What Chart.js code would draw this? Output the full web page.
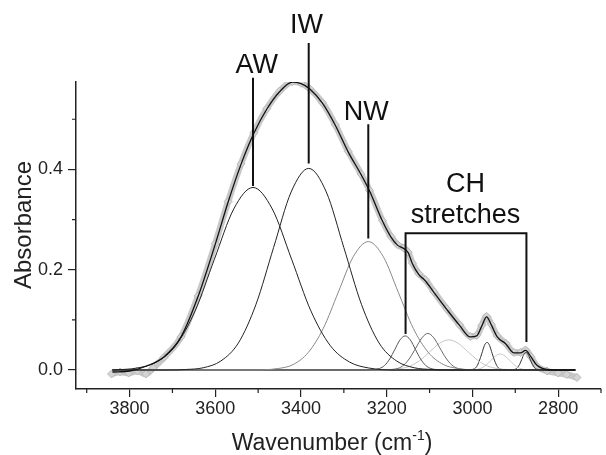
<!DOCTYPE html>
<html>
<head>
<meta charset="utf-8">
<script src="https://cdn.jsdelivr.net/npm/chart.js@4.4.1/dist/chart.umd.min.js"></script>
<style>
  html, body { margin: 0; padding: 0; background: #fff; }
  #wrap { width: 606px; height: 455px; position: relative; }
</style>
</head>
<body>
<div id="wrap"><canvas id="irChart"></canvas></div>
<script>
// measured spectrum (grey band) - wavenumber / absorbance
const spectrumX = [3842, 3822, 3802, 3782, 3762, 3745, 3720, 3680, 3640, 3600, 3570, 3540, 3510, 3480, 3450, 3420, 3400, 3380, 3350, 3320, 3290, 3260, 3240, 3210, 3190, 3175, 3160, 3150, 3140, 3125, 3110, 3090, 3060, 3030, 3005, 2990, 2978, 2967, 2956, 2942, 2922, 2903, 2888, 2876, 2864, 2850, 2826, 2800, 2780, 2756];
const spectrumY = [-0.008, -0.004, -0.006, -0.002, -0.008, 0.004, 0.025, 0.066, 0.148, 0.252, 0.336, 0.411, 0.473, 0.521, 0.556, 0.575, 0.572, 0.561, 0.533, 0.489, 0.436, 0.391, 0.358, 0.298, 0.266, 0.25, 0.243, 0.235, 0.213, 0.192, 0.18, 0.156, 0.122, 0.09, 0.067, 0.069, 0.089, 0.107, 0.091, 0.068, 0.053, 0.035, 0.035, 0.04, 0.027, 0.008, -0.002, -0.006, -0.009, -0.015];

// fitted envelope (black)
const envelopeX = [3840, 3800, 3760, 3720, 3680, 3640, 3600, 3570, 3540, 3510, 3480, 3450, 3420, 3400, 3380, 3350, 3320, 3290, 3260, 3240, 3210, 3190, 3175, 3160, 3150, 3140, 3125, 3110, 3090, 3060, 3030, 3005, 2990, 2978, 2967, 2956, 2942, 2922, 2903, 2888, 2876, 2864, 2850, 2826, 2800, 2760];
const envelopeY = [-0.004, -0.002, 0.008, 0.026, 0.066, 0.147, 0.251, 0.335, 0.41, 0.472, 0.52, 0.555, 0.574, 0.571, 0.561, 0.532, 0.488, 0.435, 0.39, 0.357, 0.297, 0.265, 0.249, 0.242, 0.234, 0.212, 0.19, 0.178, 0.155, 0.121, 0.089, 0.066, 0.068, 0.088, 0.106, 0.09, 0.066, 0.052, 0.034, 0.034, 0.039, 0.027, 0.01, 0.001, 0, 0];

// fitted components
const awX = [3840, 3782, 3737, 3692, 3647, 3602, 3557, 3512, 3467, 3422, 3377, 3332, 3287, 3242, 3180, 2760];
const awY = [0, 0.004, 0.016, 0.049, 0.118, 0.221, 0.321, 0.364, 0.321, 0.221, 0.118, 0.049, 0.016, 0.004, 0, 0];
const iwX = [3840, 3710, 3669, 3628, 3587, 3546, 3505, 3464, 3423, 3382, 3341, 3300, 3259, 3218, 3177, 3136, 3095, 3050, 2760];
const iwY = [0, 0, 0.001, 0.0045, 0.018, 0.054, 0.131, 0.244, 0.355, 0.402, 0.355, 0.244, 0.131, 0.054, 0.018, 0.0045, 0.001, 0, 0];
const nwX = [3840, 3520, 3453, 3418, 3383, 3348, 3313, 3278, 3243, 3208, 3173, 3138, 3103, 3068, 3033, 2990, 2760];
const nwY = [0, 0, 0.003, 0.011, 0.035, 0.083, 0.155, 0.226, 0.256, 0.226, 0.155, 0.083, 0.035, 0.011, 0.003, 0, 0];
const ch1X = [3840, 3260, 3229, 3217, 3205, 3193, 3181, 3169, 3157, 3145, 3133, 3121, 3109, 3097, 3085, 3050, 2760];
const ch1Y = [0, 0, 0.001, 0.003, 0.009, 0.022, 0.041, 0.06, 0.068, 0.06, 0.041, 0.022, 0.009, 0.003, 0.001, 0, 0];
const ch2X = [3840, 3220, 3188, 3174, 3160, 3146, 3132, 3118, 3104, 3090, 3076, 3062, 3048, 3034, 3020, 2990, 2760];
const ch2Y = [0, 0, 0.001, 0.003, 0.01, 0.024, 0.044, 0.064, 0.073, 0.064, 0.044, 0.024, 0.01, 0.003, 0.001, 0, 0];
const ch3X = [3840, 3230, 3190, 3167, 3145, 3123, 3100, 3077, 3055, 3033, 3010, 2987, 2965, 2943, 2920, 2880, 2760];
const ch3Y = [0, 0, 0.001, 0.003, 0.008, 0.019, 0.036, 0.053, 0.06, 0.053, 0.036, 0.019, 0.008, 0.003, 0.001, 0, 0];
const ch4X = [3840, 3020, 3002, 2996, 2990, 2984, 2978, 2972, 2966, 2960, 2954, 2948, 2942, 2936, 2930, 2910, 2760];
const ch4Y = [0, 0, 0.001, 0.002, 0.007, 0.018, 0.033, 0.049, 0.055, 0.049, 0.033, 0.018, 0.007, 0.002, 0.001, 0, 0];
const ch5X = [3840, 3010, 2990, 2979, 2968, 2957, 2946, 2935, 2924, 2913, 2902, 2891, 2880, 2860, 2760];
const ch5Y = [0, 0, 0.001, 0.004, 0.01, 0.019, 0.028, 0.032, 0.028, 0.019, 0.01, 0.004, 0.001, 0, 0];
const ch6X = [3840, 2915, 2900, 2895, 2890, 2885, 2880, 2875, 2870, 2865, 2860, 2855, 2850, 2835, 2760];
const ch6Y = [0, 0, 0.0015, 0.005, 0.011, 0.021, 0.031, 0.035, 0.031, 0.021, 0.011, 0.005, 0.0015, 0, 0];

// axis ticks
const xMajorTicks = [3800, 3600, 3400, 3200, 3000, 2800];
const xMinorTicks = [3900, 3700, 3500, 3300, 3100, 2900, 2700];
const yMajorTicks = [0, 0.2, 0.4];
const yMinorTicks = [0.1, 0.3, 0.5];

const FONT = '"Liberation Sans", Arial, sans-serif';

function pts(xs, ys) {
  return xs.map((x, i) => ({ x: x, y: ys[i] }));
}

function component(xs, ys, color) {
  return {
    data: pts(xs, ys),
    borderColor: color,
    borderWidth: 1,
    pointRadius: 0,
    cubicInterpolationMode: 'monotone',
    order: 2,
  };
}

// peak labels and the CH bracket, anchored in data units
const annotate = {
  id: 'annotate',
  afterDraw(chart) {
    const { ctx, chartArea } = chart;
    const x = chart.scales.x, y = chart.scales.y;
    const X = v => x.getPixelForValue(v);
    const Y = v => y.getPixelForValue(v);
    ctx.save();

    // minor ticks
    ctx.strokeStyle = '#222';
    ctx.lineWidth = 1.2;
    ctx.beginPath();
    xMinorTicks.forEach(v => {
      ctx.moveTo(X(v), chartArea.bottom);
      ctx.lineTo(X(v), chartArea.bottom + 4);
    });
    yMinorTicks.forEach(v => {
      ctx.moveTo(chartArea.left, Y(v));
      ctx.lineTo(chartArea.left - 4, Y(v));
    });
    ctx.stroke();

    // leader lines
    ctx.strokeStyle = '#111';
    ctx.lineWidth = 2;
    ctx.beginPath();
    ctx.moveTo(X(3512), Y(0.367)); ctx.lineTo(X(3512), Y(0.583));
    ctx.moveTo(X(3382), Y(0.412)); ctx.lineTo(X(3382), Y(0.652));
    ctx.moveTo(X(3243), Y(0.262)); ctx.lineTo(X(3243), Y(0.49));
    ctx.moveTo(X(3156), Y(0.072)); ctx.lineTo(X(3156), Y(0.2726));
    ctx.lineTo(X(2874), Y(0.2726)); ctx.lineTo(X(2874), Y(0.056));
    ctx.stroke();

    ctx.fillStyle = '#111';
    ctx.font = '27px ' + FONT;
    ctx.textAlign = 'center';
    ctx.textBaseline = 'alphabetic';
    ctx.fillText('AW', X(3503), Y(0.5916));
    ctx.fillText('IW', X(3387), Y(0.6714));
    ctx.fillText('NW', X(3248), Y(0.4985));
    ctx.fillText('CH', X(3016), Y(0.355));
    ctx.fillText('stretches', X(3016), Y(0.2925));

    // axis titles
    ctx.fillStyle = '#222';
    ctx.font = '24px ' + FONT;
    ctx.save();
    ctx.translate(31, 225);
    ctx.rotate(-Math.PI / 2);
    ctx.textBaseline = 'alphabetic';
    ctx.fillText('Absorbance', 0, 0);
    ctx.restore();

    const main = 'Wavenumber (cm';
    ctx.font = '23px ' + FONT;
    const wMain = ctx.measureText(main).width;
    const wClose = ctx.measureText(')').width;
    ctx.font = '14px ' + FONT;
    const wSup = ctx.measureText('-1').width;
    const total = wMain + wSup + wClose;
    let cx = 332 - total / 2;
    const base = 450;
    ctx.textAlign = 'left';
    ctx.font = '23px ' + FONT;
    ctx.fillText(main, cx, base);
    cx += wMain;
    ctx.font = '14px ' + FONT;
    ctx.fillText('-1', cx, base - 10);
    cx += wSup;
    ctx.font = '23px ' + FONT;
    ctx.fillText(')', cx, base);
    ctx.restore();
  }
};

new Chart(document.getElementById('irChart'), {
  type: 'line',
  data: {
    datasets: [
      {
        data: pts(envelopeX, envelopeY),
        borderColor: '#111',
        borderWidth: 1.3,
        pointRadius: 0,
        cubicInterpolationMode: 'monotone',
        order: 1,
      },
      component(awX, awY, '#222'),
      component(iwX, iwY, '#222'),
      component(nwX, nwY, '#888'),
      component(ch1X, ch1Y, '#555'),
      component(ch2X, ch2Y, '#666'),
      component(ch3X, ch3Y, '#c4c4c4'),
      component(ch4X, ch4Y, '#333'),
      component(ch5X, ch5Y, '#c8c8c8'),
      component(ch6X, ch6Y, '#333'),
      {
        data: pts(spectrumX, spectrumY),
        borderColor: '#c8c8c8',
        borderWidth: 6.5,
        pointStyle: 'rectRot',
        pointRadius: 4,
        pointBackgroundColor: '#d4d4d4',
        pointBorderColor: '#b8b8b8',
        pointBorderWidth: 1,
        cubicInterpolationMode: 'monotone',
        order: 3,
      },
    ],
  },
  options: {
    responsive: true,
    maintainAspectRatio: false,
    animation: false,
    devicePixelRatio: 1,
    layout: { padding: { top: 82, right: 2, left: 0, bottom: 0 } },
    plugins: { legend: { display: false }, tooltip: { enabled: false } },
    scales: {
      x: {
        type: 'linear',
        reverse: true,
        min: 2700,
        max: 3925,
        afterBuildTicks: axis => { axis.ticks = xMajorTicks.map(v => ({ value: v })); },
        afterFit: axis => { axis.height = 66; },
        grid: { drawOnChartArea: false, tickLength: 8, color: '#222', lineWidth: 1.2 },
        border: { color: '#222', width: 1.5 },
        ticks: { font: { family: FONT, size: 18 }, color: '#222', padding: 1, maxRotation: 0, callback: v => String(v) },
      },
      y: {
        type: 'linear',
        min: -0.0379,
        max: 0.5743,
        afterBuildTicks: axis => { axis.ticks = yMajorTicks.map(v => ({ value: v })); },
        afterFit: axis => { axis.width = 76; },
        grid: { drawOnChartArea: false, tickLength: 8, color: '#222', lineWidth: 1.2 },
        border: { color: '#222', width: 1.5 },
        ticks: { font: { family: FONT, size: 18 }, color: '#222', padding: 5, callback: v => v.toFixed(1) },
      },
    },
  },
  plugins: [annotate],
});
</script>
</body>
</html>
